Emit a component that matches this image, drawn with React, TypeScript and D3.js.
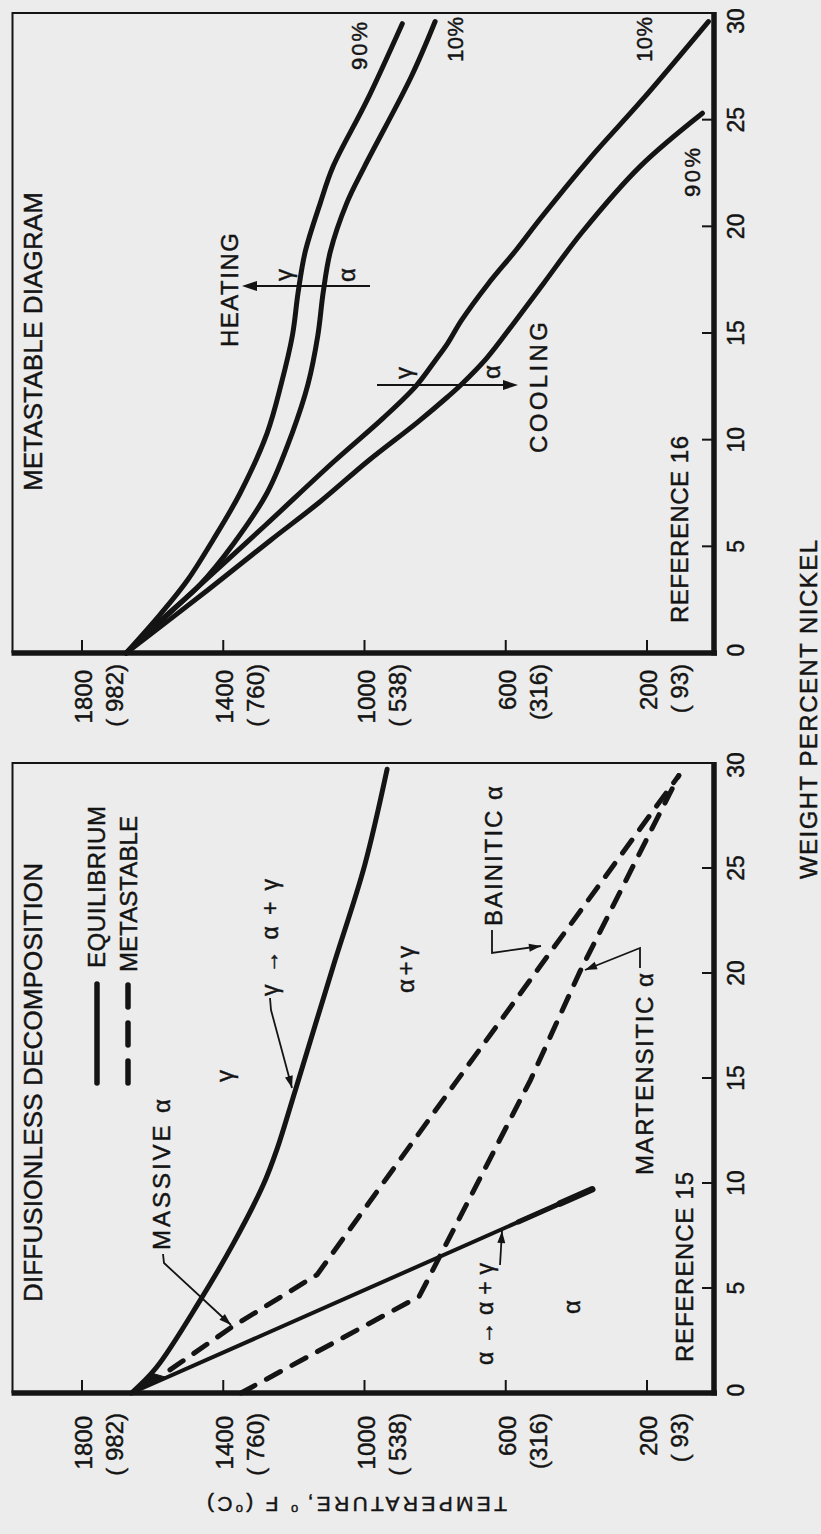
import React from 'react';
import * as d3 from 'd3';

// ---------- data (Ni wt%, Temperature °F) ----------
const niTicks = [0, 5, 10, 15, 20, 25, 30];
const tempTicksF = [200, 600, 1000, 1400, 1800];
const tempTicksC = ['( 93)', '(316)', '( 538)', '( 760)', '( 982)'];

// Reference 15 – diffusionless decomposition
const eqGammaLine: [number, number][] = [
  [0, 1660], [1.2, 1590], [4.4, 1466], [7.1, 1372], [9.9, 1287], [11.6, 1248],
  [14.3, 1198], [20.3, 1089], [25.1, 1000], [29.7, 936],
];
const eqAlphaLine: [number, number][] = [[0, 1660], [9.7, 355]];
const massiveBainitic: [number, number][] = [
  [1.1, 1551], [3.15, 1375], [5.64, 1134], [14.9, 737], [29.4, 110],
];
const martensitic: [number, number][] = [
  [0, 1350], [4.6, 845], [14.9, 530], [20.1, 389], [29.4, 110],
];

// Reference 16 – metastable diagram
const heating90: [number, number][] = [
  [0, 1675], [1.8, 1579], [3.4, 1502], [5.3, 1429], [7.5, 1352], [10.3, 1276],
  [12.6, 1236], [14.9, 1204], [16.9, 1188], [18.8, 1168], [21.1, 1125],
  [22.8, 1089], [25.9, 993], [29.5, 893],
];
const heating10: [number, number][] = [
  [0, 1675], [1.8, 1559], [3.2, 1466], [5.1, 1372], [7.5, 1276], [10.3, 1205],
  [12.6, 1160], [14.9, 1132], [16.9, 1117], [18.8, 1097], [21.1, 1050],
  [22.8, 1000], [27.0, 868], [29.6, 800],
];
const cooling10: [number, number][] = [
  [0, 1675], [3, 1478], [6, 1280], [9, 1085], [11, 948], [12.5, 855],
  [13.7, 800], [14.5, 765], [15.6, 725], [17.3, 650], [18.9, 570],
  [20.4, 500], [23.2, 361], [25.9, 215], [29.6, 26],
];
const cooling90: [number, number][] = [
  [0, 1675], [3, 1440], [5.3, 1265], [7.1, 1125], [9.0, 990], [10.8, 851],
  [12.0, 765], [12.6, 725], [13.8, 655], [15.4, 580], [17.3, 494],
  [19.7, 385], [22.8, 220], [25.3, 43],
];
// black wedges where the lines merge near pure iron
const wedgeLeft: [number, number][] = [[0, 1660], [0.95, 1604], [0.75, 1562]];
const wedgeRight: [number, number][] = [[0, 1675], [1.4, 1598], [1.2, 1581]];

const INK = '#141414';
const FONT = "'Liberation Sans', Arial, sans-serif";

function Txt(props: any) {
  const { x, y, len, size = 24, anchor = 'start', children, ...rest } = props;
  return (
    <text x={x} y={y} fontSize={size} textAnchor={anchor} fontFamily={FONT} fill={INK}
      stroke={INK} strokeWidth={0.45}
      textLength={len} lengthAdjust={len ? 'spacing' : undefined} {...rest}>
      {children}
    </text>
  );
}

export default function App() {
  const yT = d3.scaleLinear().domain([0, 2000]).range([717.6, 11.4]);
  const xL = d3.scaleLinear().domain([0, 30]).range([141, 771]);
  const xR = d3.scaleLinear().domain([0, 30]).range([881, 1521]);
  const axisY = 714;
  const top = 12.5;

  const mkLine = (xs: any, curve: any) =>
    d3.line<[number, number]>().x(d => xs(d[0])).y(d => yT(d[1])).curve(curve);
  const smoothL = mkLine(xL, d3.curveCatmullRom.alpha(0.5));
  const linL = mkLine(xL, d3.curveLinear);
  const smoothR = mkLine(xR, d3.curveCatmullRom.alpha(0.5));
  const linR = mkLine(xR, d3.curveLinear);

  const panel = (xs: any, key: string, lblRight1: number, lblRight2: number, lastShift: number) => {
    const x0 = xs(0), x1 = xs(30);
    return (
      <g key={key}>
        {/* thin frame */}
        <path d={`M${x0},${top} L${x1},${top} L${x1},${axisY}`} fill="none" stroke={INK} strokeWidth={2} />
        {/* thick axes */}
        <line x1={x0} y1={top - 1} x2={x0} y2={axisY + 3} stroke={INK} strokeWidth={5.5} />
        <line x1={x0 - 2.5} y1={axisY} x2={x1 + 1} y2={axisY} stroke={INK} strokeWidth={5.5} />
        {niTicks.filter(t => t > 0 && t < 30).map(t => (
          <line key={'xt' + t} x1={xs(t)} x2={xs(t)} y1={axisY} y2={axisY - 12} stroke={INK} strokeWidth={2} />
        ))}
        {niTicks.map(t => (
          <Txt key={'xl' + t} x={xs(t) + (t === 30 ? lastShift : t === 0 ? 3 : 0)} y={744} size={23} anchor="middle">{t}</Txt>
        ))}
        {tempTicksF.map((t, i) => (
          <g key={'yt' + t}>
            <line x1={x0} x2={x0 + 13} y1={yT(t)} y2={yT(t)} stroke={INK} strokeWidth={2} />
            <Txt x={lblRight1} y={yT(t) + 10} size={24} anchor="end">{t}</Txt>
            <Txt x={lblRight2} y={yT(t) + 41} size={24} anchor="end">{tempTicksC[i]}</Txt>
          </g>
        ))}
      </g>
    );
  };

  const arrowPath = (x1: number, y1: number, x2: number, y2: number, L = 13, Wd = 4.5) => {
    const a = Math.atan2(y2 - y1, x2 - x1);
    const bx = x2 - L * Math.cos(a), by = y2 - L * Math.sin(a);
    const px = -Math.sin(a) * Wd, py = Math.cos(a) * Wd;
    return `M${x2},${y2} L${bx + px},${by + py} L${bx - px},${by - py} Z`;
  };

  const leader = (pts: [number, number][], key: string) => {
    const n = pts.length;
    const [ax, ay] = pts[n - 2];
    const [bx, by] = pts[n - 1];
    return (
      <g key={key}>
        <path d={'M' + pts.map(p => p.join(',')).join(' L')} fill="none" stroke={INK} strokeWidth={1.8} />
        <path d={arrowPath(ax, ay, bx, by, 12, 4)} fill={INK} />
      </g>
    );
  };

  const alphaEnd = eqAlphaLine[1];
  const alphaStart = eqAlphaLine[0];
  const tipFrom: [number, number] = [
    alphaEnd[0] - (alphaEnd[0] - alphaStart[0]) * 0.07,
    alphaEnd[1] - (alphaEnd[1] - alphaStart[1]) * 0.07,
  ];
  const tipMid: [number, number] = [
    alphaEnd[0] - (alphaEnd[0] - alphaStart[0]) * 0.16,
    alphaEnd[1] - (alphaEnd[1] - alphaStart[1]) * 0.16,
  ];

  return (
    <svg width={821} height={1534} style={{ position: 'absolute', left: 0, top: 0, background: '#ececec' }}>
      <rect x={0} y={0} width={821} height={1534} fill="#ececec" />
      <g transform="translate(0,1534) rotate(-90)">
        {panel(xL, 'L', 118, 121, -2)}
        {panel(xR, 'R', 864, 870, -8)}

        {/* ---------- Left panel curves ---------- */}
        <path d={smoothL(eqGammaLine) || ''} fill="none" stroke={INK} strokeWidth={5} strokeLinecap="round" />
        <path d={linL(eqAlphaLine) || ''} fill="none" stroke={INK} strokeWidth={4} strokeLinecap="round" />
        <path d={linL([tipMid, alphaEnd]) || ''} fill="none" stroke={INK} strokeWidth={5} strokeLinecap="round" />
        <path d={linL([tipFrom, alphaEnd]) || ''} fill="none" stroke={INK} strokeWidth={6.5} strokeLinecap="round" />
        <path d={(linL(wedgeLeft) || '') + 'Z'} fill={INK} stroke={INK} strokeWidth={1} />
        <path d={linL(massiveBainitic) || ''} fill="none" stroke={INK} strokeWidth={5} strokeDasharray="16 13" strokeLinecap="round" />
        <path d={linL(martensitic) || ''} fill="none" stroke={INK} strokeWidth={5} strokeDasharray="16 13" strokeLinecap="round" />

        {/* legend */}
        <line x1={451} x2={550} y1={97} y2={97} stroke={INK} strokeWidth={5.5} strokeLinecap="round" />
        <line x1={451} x2={550} y1={128} y2={128} stroke={INK} strokeWidth={5.5} strokeDasharray="22 16" strokeLinecap="round" />
        <Txt x={566} y={105} len={162}>EQUILIBRIUM</Txt>
        <Txt x={562} y={137} len={156}>METASTABLE</Txt>

        <Txt x={232} y={42} size={26} len={439}>DIFFUSIONLESS DECOMPOSITION</Txt>
        <Txt x={284} y={170} len={151}>MASSIVE α</Txt>
        {leader([[280, 163], [271, 164], [209, 231]], 'l1')}
        <Txt x={538} y={278} size={23} len={117}>γ→α+γ</Txt>
        {leader([[536, 270], [524, 271], [446, 292]], 'l2')}
        <Txt x={458} y={233} anchor="middle">γ</Txt>
        <Txt x={541} y={414} len={47}>α+γ</Txt>
        <Txt x={608} y={502} len={140}>BAINITIC α</Txt>
        {leader([[604, 492], [581, 492], [588, 541]], 'l3')}
        <Txt x={359} y={653} len={202}>MARTENSITIC α</Txt>
        {leader([[566, 640], [586, 640], [564, 585]], 'l4')}
        <Txt x={169} y={493} size={23} len={102}>α→α+γ</Txt>
        {leader([[269, 500], [303, 502]], 'l5')}
        <Txt x={227} y={580} anchor="middle">α</Txt>
        <Txt x={172} y={693} len={190}>REFERENCE 15</Txt>

        {/* ---------- Right panel curves ---------- */}
        {[heating90, heating10, cooling10, cooling90].map((c, i) => (
          <path key={'c' + i} d={smoothR(c) || ''} fill="none" stroke={INK} strokeWidth={5} strokeLinecap="round" />
        ))}
        <path d={(linR(wedgeRight) || '') + 'Z'} fill={INK} stroke={INK} strokeWidth={1} />
        <Txt x={1043} y={42} size={26} len={299}>METASTABLE DIAGRAM</Txt>
        <Txt x={1187} y={238} len={114}>HEATING</Txt>
        <line x1={1248} x2={1248} y1={370} y2={250} stroke={INK} strokeWidth={2} />
        <path d={arrowPath(1248, 370, 1248, 242, 15, 5)} fill={INK} />
        <Txt x={1259} y={292} anchor="middle">γ</Txt>
        <Txt x={1259} y={355} anchor="middle">α</Txt>
        <Txt x={1081} y={547} len={131}>COOLING</Txt>
        <line x1={1149} x2={1149} y1={377} y2={510} stroke={INK} strokeWidth={2} />
        <path d={arrowPath(1149, 377, 1149, 518, 15, 5)} fill={INK} />
        <Txt x={1161} y={412} anchor="middle">γ</Txt>
        <Txt x={1162} y={500} anchor="middle">α</Txt>
        <Txt x={1464} y={367} size={22} len={48}>90%</Txt>
        <Txt x={1472} y={463} size={22} len={45}>10%</Txt>
        <Txt x={1472} y={652} size={22} len={45}>10%</Txt>
        <Txt x={1337} y={700} size={22} len={49}>90%</Txt>
        <Txt x={911} y={688} len={187}>REFERENCE 16</Txt>

        {/* shared axis titles */}
        <Txt x={655} y={817} len={339}>WEIGHT PERCENT NICKEL</Txt>
        <text transform="translate(37,357) rotate(-90)" textAnchor="middle" fontSize={21}
          fontFamily={FONT} fill={INK} stroke={INK} strokeWidth={0.45} textLength={300} lengthAdjust="spacing">
          TEMPERATURE,<tspan dx={6} dy={-8} fontSize={13}>o</tspan><tspan dy={8}> F (</tspan>
          <tspan dy={-8} fontSize={13}>o</tspan><tspan dy={8}>C)</tspan>
        </text>
      </g>
    </svg>
  );
}
